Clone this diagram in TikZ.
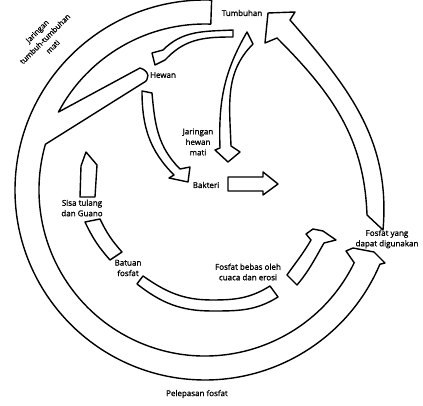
\documentclass[tikz,border=0pt]{standalone}
\usepackage{fontspec}
\setsansfont{Open Sans}[RawFeature={embolden=1.2}]
\usetikzlibrary{calc}

\begin{document}
\begin{tikzpicture}[x=1pt, y=1pt,
    blok/.style={draw=black, line width=1.4pt, fill=white, line join=round},
    lbl/.style={font=\sffamily\fontsize{8}{10.5}\selectfont, align=center, inner sep=0pt}
]
\useasboundingbox (0,0) rectangle (423,406);
\coordinate (C) at (205,216);

% Outer cycle with branch to Hewan
\draw[blok] ($(C)+(88:190pt)$) arc[start angle=88, end angle=337, radius=190pt]
  -- (385,143) -- (374,154) -- (353,158) -- (346,155)
  -- ($(C)+(334:166pt)$) arc[start angle=334, end angle=164, radius=166pt]
  -- (143,323) .. controls (150,326) and (150,335) .. (140,338)
  -- ($(C)+(152:166pt)$) arc[start angle=152, end angle=88, radius=166pt] -- cycle;

% Fosfat yang dapat digunakan -> Tumbuhan
\draw[blok] (383,176) to[out=85,in=-49] (290,386) -- (295,394) -- (268,393)
  -- (265,363) -- (277,368) to[out=-45,in=92] (367,191) -- cycle;

% Tumbuhan -> Hewan
\draw[blok] (233,376) to[out=183,in=45] (163,356) -- (152,353) -- (155,341)
  -- (165,346) -- (168,349) to[out=45,in=180] (233,369) -- cycle;

% Hewan -> Bakteri
\draw[blok] (142,315) to[out=-90,in=135] (174,231) -- (169,228) -- (188,224)
  -- (190,239) -- (180,237) to[out=135,in=-85] (152,313) -- cycle;

% Tumbuhan -> Jaringan hewan mati
\draw[blok] (247,374) to[out=-120,in=92] (220,258) -- (215,256) -- (228,244)
  -- (240,254) -- (231,260) to[out=92,in=-135] (253,362) -- cycle;

% Bakteri
\draw[blok] (228,229) -- (263,229) -- (263,234) -- (278,222) -- (263,211)
  -- (263,215) -- (228,215) -- cycle;

% Sisa tulang dan Guano
\draw[blok] (80,209) -- (81,240) -- (86,254) -- (97,241) -- (95,209) -- cycle;

% Sisa tulang -> Batuan fosfat
\draw[blok] (85,184) to[bend right=8] (110,146) -- (122,154) to[bend left=8] (100,187) -- cycle;

% Batuan fosfat -> Fosfat bebas
\draw[blok] (143,130) to[out=-35,in=180] (212,106) to[out=0,in=-148] (270,120)
  -- (278,109) to[out=-148,in=0] (212,95) to[out=180,in=-38] (137,122) -- cycle;

% Fosfat bebas -> Fosfat yang dapat digunakan
\draw[blok] (287,131) to[out=55,in=-120] (311,166) -- (306,172) -- (313,177)
  -- (323,175) -- (336,166) -- (324,163) to[out=-120,in=50] (297,121) -- cycle;

% Labels
\node[lbl] (tumbuhan) at (242,393) {Tumbuhan};
\node[lbl] (hewan) at (163,331) {Hewan};
\node[lbl] (jaringanhewan) at (198,264) {Jaringan\\hewan\\mati};
\node[lbl] (bakteri) at (206,221) {Bakteri};
\node[lbl] (sisa) at (82,198) {Sisa tulang\\dan Guano};
\node[lbl] (batuan) at (128,138) {Batuan\\fosfat};
\node[lbl] (bebas) at (248,134) {Fosfat bebas oleh\\cuaca dan erosi};
\node[lbl] (digunakan) at (387,167) {Fosfat yang\\dapat digunakan};
\node[lbl] (pelepasan) at (197,12) {Pelepasan fosfat};
\node[lbl, rotate=45, font=\sffamily\fontsize{7.5}{11}\selectfont] (jaringantumbuhan) at (45,367) {Jaringan\\tumbuh-tumbuhan\\mati};

\end{tikzpicture}
\end{document}
